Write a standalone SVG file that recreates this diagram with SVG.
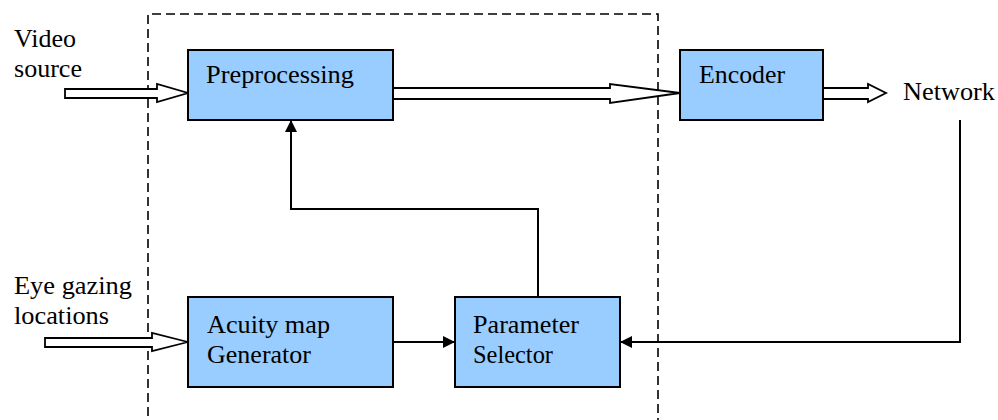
<svg xmlns="http://www.w3.org/2000/svg" width="998" height="420" viewBox="0 0 998 420">
  <style>
    .box { fill: #99ccff; stroke: #000; stroke-width: 2; }
    .wire { fill: none; stroke: #000; stroke-width: 2; }
    .hollow { fill: #fff; stroke: #000; stroke-width: 1.8; stroke-linejoin: miter; }
    .frame { fill: none; stroke: #000; stroke-width: 1.6; stroke-dasharray: 9 5; }
  </style>
  <defs>
    <marker id="tri" viewBox="0 0 12 12" refX="12" refY="6" markerWidth="12" markerHeight="12" markerUnits="userSpaceOnUse" orient="auto">
      <path d="M0,0 L12,6 L0,12 Z" fill="#000"/>
    </marker>
  </defs>
  <rect width="998" height="420" fill="#fff"/>

  <!-- dashed enclosure -->
  <path class="frame" d="M148,430 L148,14 L658,14 L658,430"/>

  <g font-family="Liberation Serif, Times New Roman, DejaVu Serif, serif" font-size="25" fill="#000" lengthAdjust="spacingAndGlyphs">
    <!-- free labels -->
    <text x="14" y="47" textLength="62" lengthAdjust="spacingAndGlyphs">Video</text>
    <text x="14" y="77" textLength="68" lengthAdjust="spacingAndGlyphs">source</text>
    <text x="14" y="294" textLength="118" lengthAdjust="spacingAndGlyphs">Eye gazing</text>
    <text x="14" y="324" textLength="95" lengthAdjust="spacingAndGlyphs">locations</text>
    <text x="903" y="100" textLength="92" lengthAdjust="spacingAndGlyphs">Network</text>

    <g id="connectors">
      <!-- hollow block arrows -->
      <path class="hollow" d="M65,89 L157,89 L157,84 L188,93 L157,102 L157,98 L65,98 Z"/>
      <path class="hollow" d="M393,88 L610,88 L610,84 L680,93 L610,103 L610,99 L393,99 Z"/>
      <path class="hollow" d="M823,88 L868,88 L868,84 L886,93 L868,102 L868,99 L823,99 Z"/>
      <path class="hollow" d="M45,338 L152,338 L152,333 L188,342 L152,351 L152,347 L45,347 Z"/>
      <!-- solid line arrows -->
      <path class="wire" d="M393,342 L455,342" marker-end="url(#tri)"/>
      <path class="wire" d="M538,297 L538,209 L291,209 L291,120" marker-end="url(#tri)"/>
      <path class="wire" d="M960,120 L960,342 L620,342" marker-end="url(#tri)"/>
    </g>

    <g id="preprocessing">
      <rect class="box" x="188" y="50" width="205" height="70"/>
      <text x="206" y="83" textLength="148" lengthAdjust="spacingAndGlyphs">Preprocessing</text>
    </g>
    <g id="encoder">
      <rect class="box" x="680" y="50" width="143" height="70"/>
      <text x="699" y="83" textLength="86" lengthAdjust="spacingAndGlyphs">Encoder</text>
    </g>
    <g id="acuity">
      <rect class="box" x="188" y="297" width="205" height="90"/>
      <text x="207" y="333" textLength="123" lengthAdjust="spacingAndGlyphs">Acuity map</text>
      <text x="207" y="363" textLength="104" lengthAdjust="spacingAndGlyphs">Generator</text>
    </g>
    <g id="selector">
      <rect class="box" x="455" y="297" width="165" height="90"/>
      <text x="473" y="333" textLength="106" lengthAdjust="spacingAndGlyphs">Parameter</text>
      <text x="473" y="363" textLength="80" lengthAdjust="spacingAndGlyphs">Selector</text>
    </g>
  </g>
</svg>
